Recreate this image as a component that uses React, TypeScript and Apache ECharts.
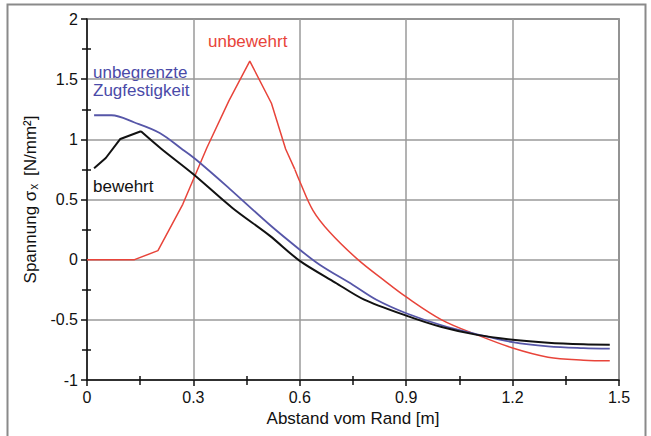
import React, { useEffect, useRef } from "react";
import * as echarts from "echarts";

const xTicks = [0, 0.3, 0.6, 0.9, 1.2, 1.5];
const yTicks = [-1, -0.5, 0, 0.5, 1, 1.5, 2];

const xBewehrt = [0.02, 0.053, 0.094, 0.152, 0.21, 0.3, 0.41, 0.515, 0.6, 0.7, 0.78, 0.9, 1.0, 1.1, 1.2, 1.3, 1.4, 1.474];
const yBewehrt = [0.76, 0.845, 1.003, 1.067, 0.92, 0.71, 0.43, 0.2, -0.01, -0.19, -0.33, -0.465, -0.56, -0.625, -0.665, -0.69, -0.703, -0.707];

const xUnbegrenzt = [0.02, 0.069, 0.134, 0.205, 0.27, 0.308, 0.4, 0.515, 0.6, 0.656, 0.75, 0.816, 0.9, 1.0, 1.1, 1.2, 1.3, 1.4, 1.474];
const yUnbegrenzt = [1.2, 1.2, 1.14, 1.053, 0.914, 0.83, 0.595, 0.29, 0.083, -0.042, -0.21, -0.333, -0.445, -0.545, -0.62, -0.685, -0.72, -0.735, -0.74];

const xUnbewehrt = [0, 0.134, 0.2, 0.27, 0.338, 0.4, 0.459, 0.52, 0.56, 0.586, 0.6, 0.637, 0.684, 0.764, 0.835, 0.9, 1.0, 1.1, 1.2, 1.3, 1.4, 1.474];
const yUnbewehrt = [0, 0, 0.075, 0.46, 0.93, 1.32, 1.65, 1.3, 0.92, 0.75, 0.65, 0.41, 0.23, 0, -0.166, -0.31, -0.5, -0.625, -0.734, -0.81, -0.835, -0.84];

// index where each curve switches from straight segments to a smooth curve
const bewehrtSmoothFrom = 3;
const unbewehrtSmoothFrom = 9;

const zip = (xs: number[], ys: number[]) => xs.map((x, i) => [x, ys[i]]);

const FONT = "Liberation Sans, Arial, sans-serif";
const RED = "#e8443a";
const BLUE = "#5656a8";
const BLACK = "#111";

export default function App() {
  const ref = useRef<HTMLDivElement>(null);
  useEffect(() => {
    if (!ref.current) return;
    const chart = echarts.init(ref.current, null, { renderer: "svg" });
    const labelStyle = { color: "#111", fontSize: 16, fontFamily: FONT };
    const red = zip(xUnbewehrt, yUnbewehrt);
    const black = zip(xBewehrt, yBewehrt);
    const blue = zip(xUnbegrenzt, yUnbegrenzt);
    const lineBase = { type: "line", showSymbol: false };
    chart.setOption({
      animation: false,
      backgroundColor: "#fff",
      grid: {
        left: 87,
        right: 32,
        top: 19,
        bottom: 56,
        show: true,
        borderColor: "#555",
        borderWidth: 1.5,
        containLabel: false,
      },
      xAxis: [
        {
          type: "value",
          min: xTicks[0],
          max: xTicks[xTicks.length - 1],
          interval: 0.3,
          axisLine: { show: true, onZero: false, lineStyle: { color: "#111", width: 1.5 } },
          axisTick: { show: true, length: 6, lineStyle: { color: "#111", width: 1.5 } },
          minorTick: { show: true, splitNumber: 2, length: 5, lineStyle: { color: "#111", width: 1.5 } },
          axisLabel: { ...labelStyle, margin: 9, formatter: (v: number) => String(Math.round(v * 10) / 10) },
          splitLine: { show: true, lineStyle: { color: "#9a9a9a", width: 1.5 } },
          name: "Abstand vom Rand [m]",
          nameLocation: "middle",
          nameGap: 28,
          nameTextStyle: { color: "#111", fontSize: 17, fontFamily: FONT },
        },
        {
          type: "value",
          position: "bottom",
          min: xTicks[0],
          max: xTicks[xTicks.length - 1],
          interval: 0.3,
          axisLine: { show: false, onZero: false },
          axisTick: { show: false, inside: true },
          minorTick: { show: true, splitNumber: 2, length: 4, lineStyle: { color: "#111", width: 1.5 } },
          axisLabel: { show: false },
          splitLine: { show: false },
        },
      ],
      yAxis: [
        {
          type: "value",
          min: yTicks[0],
          max: yTicks[yTicks.length - 1],
          interval: 0.5,
          axisLine: { show: true, onZero: false, lineStyle: { color: "#111", width: 1.5 } },
          axisTick: { show: true, length: 6, lineStyle: { color: "#111", width: 1.5 } },
          minorTick: { show: true, splitNumber: 2, length: 5, lineStyle: { color: "#111", width: 1.5 } },
          axisLabel: { ...labelStyle, margin: 9 },
          splitLine: { show: true, lineStyle: { color: "#9a9a9a", width: 1.5 } },
          name: "{n|Spannung σ}{s|x}{n| [N/mm²]}",
          nameLocation: "middle",
          nameGap: 44,
          nameRotate: 90,
          nameTextStyle: {
            color: "#111",
            fontFamily: FONT,
            rich: {
              n: { fontSize: 17, fontFamily: FONT, color: "#111" },
              s: { fontSize: 12, fontFamily: FONT, color: "#111", padding: [7, 3, 0, 1] },
            },
          },
        },
        {
          type: "value",
          position: "left",
          min: yTicks[0],
          max: yTicks[yTicks.length - 1],
          interval: 0.5,
          axisLine: { show: false, onZero: false },
          axisTick: { show: false, inside: true },
          minorTick: { show: true, splitNumber: 2, length: 4, lineStyle: { color: "#111", width: 1.5 } },
          axisLabel: { show: false },
          splitLine: { show: false },
        },
      ],
      series: [
        {
          ...lineBase,
          name: "unbewehrt",
          data: red.slice(0, unbewehrtSmoothFrom + 1),
          lineStyle: { color: RED, width: 1.5 },
          z: 3,
        },
        {
          ...lineBase,
          name: "unbewehrt",
          data: red.slice(unbewehrtSmoothFrom),
          smooth: 0.35,
          lineStyle: { color: RED, width: 1.5 },
          z: 3,
        },
        {
          ...lineBase,
          name: "unbegrenzte Zugfestigkeit",
          data: blue,
          smooth: 0.35,
          lineStyle: { color: BLUE, width: 1.8 },
          z: 4,
        },
        {
          ...lineBase,
          name: "bewehrt",
          data: black.slice(0, bewehrtSmoothFrom + 1),
          lineStyle: { color: BLACK, width: 2 },
          z: 5,
        },
        {
          ...lineBase,
          name: "bewehrt",
          data: black.slice(bewehrtSmoothFrom),
          smooth: 0.3,
          lineStyle: { color: BLACK, width: 2 },
          z: 5,
        },
      ],
      graphic: [
        {
          type: "rect",
          shape: { x: 7.5, y: 4.5, width: 638, height: 440 },
          style: { fill: "none", stroke: "#8a8a8a", lineWidth: 2 },
          silent: true,
        },
        {
          type: "text",
          x: 208,
          y: 41,
          style: { text: "unbewehrt", fill: RED, font: `17px ${FONT}`, textVerticalAlign: "middle" },
        },
        {
          type: "text",
          x: 93,
          y: 72,
          style: { text: "unbegrenzte", fill: "#4a4aa8", font: `17px ${FONT}`, textVerticalAlign: "middle" },
        },
        {
          type: "text",
          x: 93,
          y: 90,
          style: { text: "Zugfestigkeit", fill: "#4a4aa8", font: `17px ${FONT}`, textVerticalAlign: "middle" },
        },
        {
          type: "text",
          x: 93,
          y: 186,
          style: { text: "bewehrt", fill: "#111", font: `17px ${FONT}`, textVerticalAlign: "middle" },
        },
      ],
    });
    return () => chart.dispose();
  }, []);
  return (
    <div
      ref={ref}
      style={{ position: "fixed", left: 0, top: 0, width: 651, height: 436, background: "#fff" }}
    />
  );
}
